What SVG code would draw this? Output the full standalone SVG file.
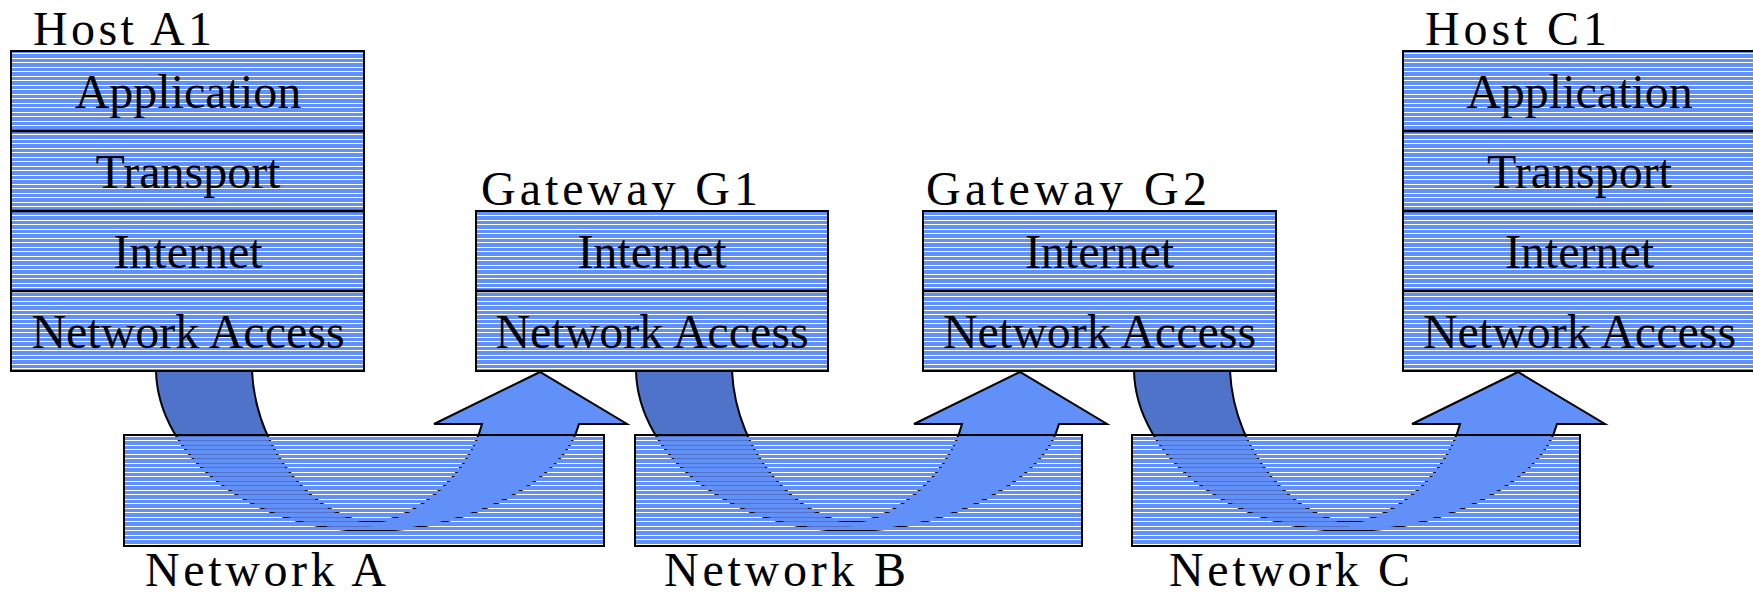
<svg xmlns="http://www.w3.org/2000/svg" width="1753" height="594" viewBox="0 0 1753 594">
  <defs>
    <!-- horizontal hatch: opaque blue bands with thin clear gaps (pixel aligned, 4.5px mean pitch) -->
    <pattern id="stripes" patternUnits="userSpaceOnUse" x="0" y="0" width="20" height="9">
      <rect x="0" y="0" width="20" height="4" fill="#6090F8"/>
      <rect x="0" y="5" width="20" height="3" fill="#6090F8"/>
    </pattern>
    <!-- curved up arrow: shaded back band on the left, front band rising into the head -->
    <g id="curved-arrow">
      <path class="band-back" d="M156,371 C158,455 250,531 370,531 L372,522 C320,521 256,455 252,371 Z"/>
      <path class="band-front" d="M370,531 C470,531 565,480 579,424 L627,424 L540,372 L434,424 L482,424 C468,478 410,522 372,522 Z"/>
      <path class="band-edge" d="M156,371 C158,455 250,531 370,531 C470,531 565,480 579,424 L627,424 L540,372 L434,424 L482,424 C468,478 410,522 372,522 C320,521 256,455 252,371"/>
    </g>
  </defs>
  <style>
    .layer { fill: url(#stripes); stroke: #000; stroke-width: 2; }
    .divider { stroke: #000; stroke-width: 2.5; }
    text { font-family: "Liberation Serif", "Times New Roman", serif; font-size: 48px; fill: #000; }
    .mid { text-anchor: middle; }
    .band-back { fill: #4E73C9; stroke: none; }
    .band-front { fill: #6090F8; stroke: none; }
    .band-edge { fill: none; stroke: #000; stroke-width: 2; stroke-linejoin: miter; }
  </style>

  <rect x="0" y="0" width="1753" height="594" fill="#fff"/>

  <!-- arrows passing through each network -->
  <g id="connectors">
    <use href="#curved-arrow" x="0" y="0"/>
    <use href="#curved-arrow" x="480" y="0"/>
    <use href="#curved-arrow" x="978" y="0"/>
  </g>

  <g id="network-a">
    <rect class="layer" x="124" y="435" width="480" height="111"/>
    <text x="145" y="586" textLength="241" lengthAdjust="spacing">Network A</text>
  </g>
  <g id="network-b">
    <rect class="layer" x="635" y="435" width="447" height="111"/>
    <text x="664" y="586" textLength="242" lengthAdjust="spacing">Network B</text>
  </g>
  <g id="network-c">
    <rect class="layer" x="1132" y="435" width="448" height="111"/>
    <text x="1169" y="586" textLength="241" lengthAdjust="spacing">Network C</text>
  </g>

  <g id="host-a1">
    <text x="33" y="45" textLength="179" lengthAdjust="spacing">Host A1</text>
    <rect class="layer" x="11" y="51" width="353" height="320"/>
    <line class="divider" x1="11" y1="131" x2="364" y2="131"/>
    <line class="divider" x1="11" y1="211" x2="364" y2="211"/>
    <line class="divider" x1="11" y1="291" x2="364" y2="291"/>
    <text class="mid" x="188" y="108">Application</text>
    <text class="mid" x="188" y="188">Transport</text>
    <text class="mid" x="188" y="268">Internet</text>
    <text class="mid" x="188" y="348">Network Access</text>
  </g>

  <g id="gateway-g1">
    <text x="481" y="205" textLength="277" lengthAdjust="spacing">Gateway G1</text>
    <rect class="layer" x="476" y="211" width="352" height="160"/>
    <line class="divider" x1="476" y1="291" x2="828" y2="291"/>
    <text class="mid" x="652" y="268">Internet</text>
    <text class="mid" x="652" y="348">Network Access</text>
  </g>

  <g id="gateway-g2">
    <text x="926" y="205" textLength="281" lengthAdjust="spacing">Gateway G2</text>
    <rect class="layer" x="923" y="211" width="353" height="160"/>
    <line class="divider" x1="923" y1="291" x2="1276" y2="291"/>
    <text class="mid" x="1099.5" y="268">Internet</text>
    <text class="mid" x="1099.5" y="348">Network Access</text>
  </g>

  <g id="host-c1">
    <text x="1425" y="45" textLength="182" lengthAdjust="spacing">Host C1</text>
    <rect class="layer" x="1403" y="51" width="353" height="320"/>
    <line class="divider" x1="1403" y1="131" x2="1756" y2="131"/>
    <line class="divider" x1="1403" y1="211" x2="1756" y2="211"/>
    <line class="divider" x1="1403" y1="291" x2="1756" y2="291"/>
    <text class="mid" x="1579.5" y="108">Application</text>
    <text class="mid" x="1579.5" y="188">Transport</text>
    <text class="mid" x="1579.5" y="268">Internet</text>
    <text class="mid" x="1579.5" y="348">Network Access</text>
  </g>
</svg>
